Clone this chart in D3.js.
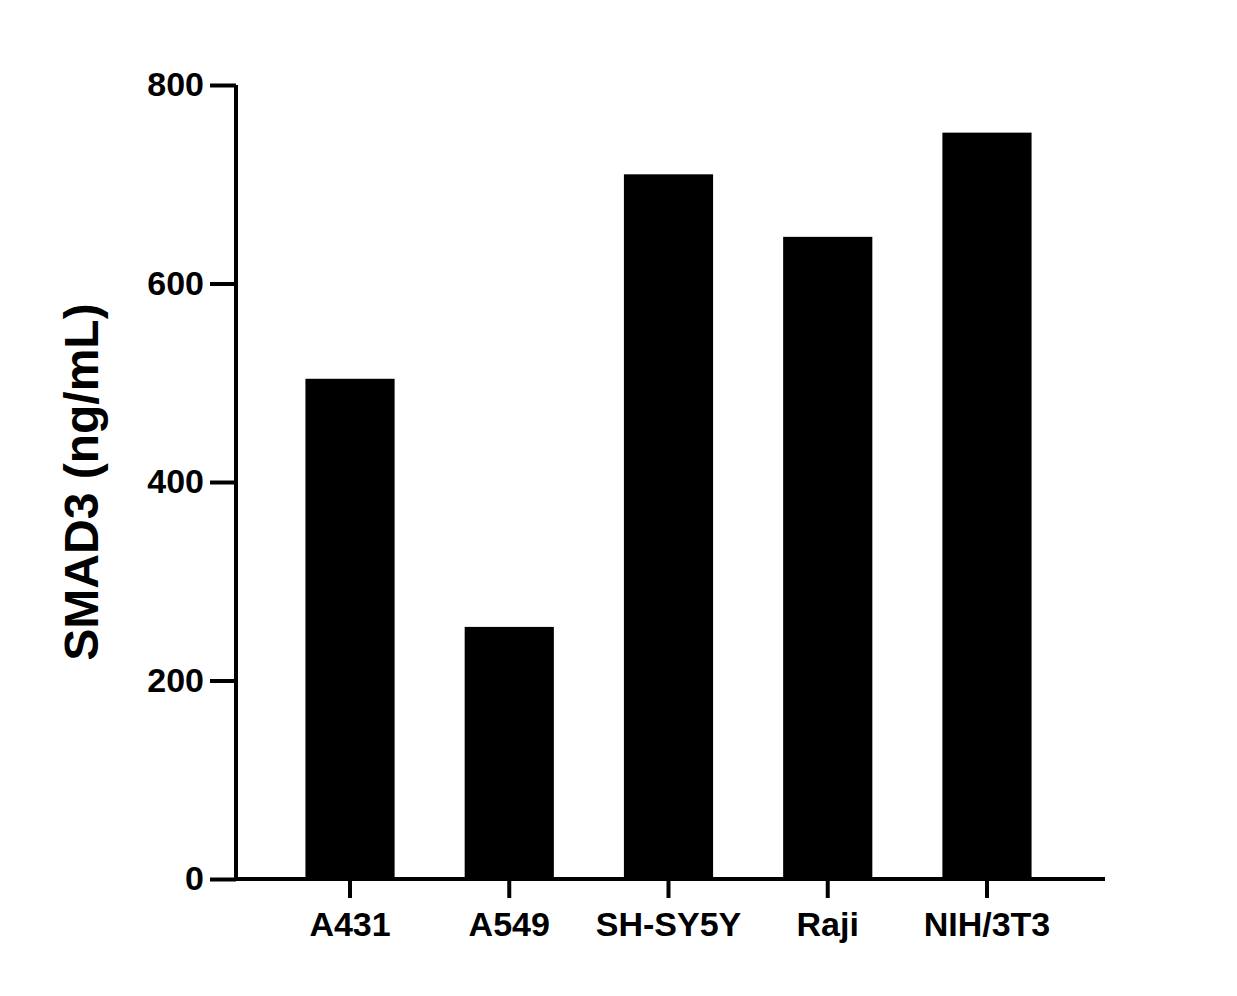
<!DOCTYPE html>
<html>
<head>
<meta charset="utf-8">
<script src="https://cdn.jsdelivr.net/npm/d3@7"></script>
<style>
  body { margin: 0; background: #fff; }
  text { font-family: "Liberation Sans", Arial, sans-serif; font-weight: bold; }
</style>
</head>
<body>
<div id="chart"></div>
<script>
// values
const categories = ["A431", "A549", "SH-SY5Y", "Raji", "NIH/3T3"];
const values = [504, 254, 710, 647, 752];
const yTicks = [0, 200, 400, 600, 800];

const svg = d3.select("#chart")
    .append("svg")
    .attr("width", 1237)
    .attr("height", 996);

const x = d3.scaleBand()
    .domain(categories)
    .range([270.4, 1066.6])
    .paddingInner(0.44)
    .paddingOuter(0.22);

const y = d3.scaleLinear()
    .domain([0, 800])
    .range([879, 85]);

// bars
svg.selectAll("rect")
    .data(values)
    .enter()
    .append("rect")
    .attr("x", (d, i) => x(categories[i]))
    .attr("y", d => y(d))
    .attr("width", x.bandwidth())
    .attr("height", d => y(0) - y(d))
    .attr("fill", "#000");

// y axis
const yAxis = svg.append("g")
    .attr("transform", "translate(236,0)")
    .call(d3.axisLeft(y).tickValues(yTicks).tickSize(26).tickPadding(6));
yAxis.select(".domain").attr("d", `M0,${y(800)}V${y(0)}`);

// x axis
const xAxis = svg.append("g")
    .attr("transform", `translate(0,${y(0)})`)
    .call(d3.axisBottom(x).tickSize(19).tickPadding(14));
xAxis.select(".domain").attr("d", "M234,0H1105");

svg.selectAll(".domain, .tick line")
    .attr("stroke", "#000")
    .attr("stroke-width", 4);
svg.selectAll(".tick text")
    .attr("fill", "#000")
    .style("font-size", "34px");

// y title
svg.append("text")
    .attr("transform", "translate(98,482) rotate(-90)")
    .attr("text-anchor", "middle")
    .style("font-size", "48px")
    .text("SMAD3 (ng/mL)");
</script>
</body>
</html>
